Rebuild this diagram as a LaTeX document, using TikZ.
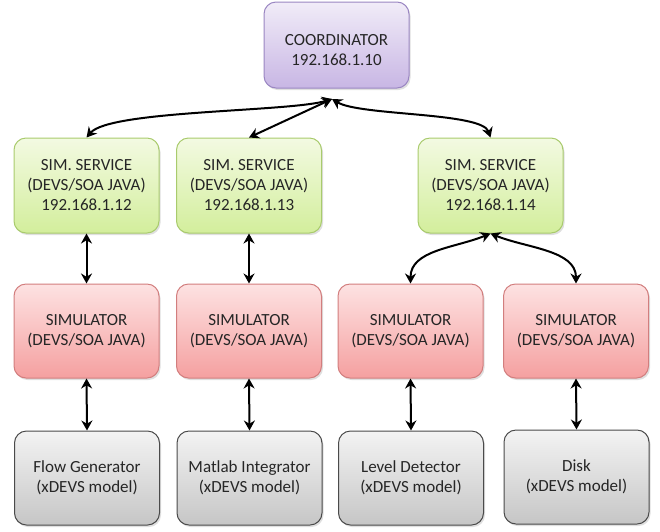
\documentclass[tikz,border=0pt]{standalone}
\usepackage{fontspec}
\setmainfont{Carlito}
\usetikzlibrary{arrows.meta,shadows}

\definecolor{coordTop}{HTML}{F1ECF8}
\definecolor{coordBot}{HTML}{C8B6E4}
\definecolor{coordLine}{HTML}{9A86C2}
\definecolor{svcTop}{HTML}{F3FAE2}
\definecolor{svcBot}{HTML}{D3EE9C}
\definecolor{svcLine}{HTML}{A9CB6D}
\definecolor{simTop}{HTML}{FDE2E2}
\definecolor{simBot}{HTML}{F5A0A0}
\definecolor{simLine}{HTML}{D27E7E}
\definecolor{modTop}{HTML}{F3F3F3}
\definecolor{modBot}{HTML}{C6C6C6}
\definecolor{modLine}{HTML}{4A4A4A}

\tikzset{
  box/.style={rounded corners=12pt, align=center, minimum width=145pt,
    font=\fontsize{17}{20}\selectfont, text=black!85, line width=1pt,
    drop shadow={opacity=0.25, shadow xshift=1.5pt, shadow yshift=-2pt}},
  coordbox/.style={box, draw=coordLine, top color=coordTop, bottom color=coordBot, minimum height=86pt},
  svcbox/.style={box, draw=svcLine, top color=svcTop, bottom color=svcBot, minimum height=95pt},
  simbox/.style={box, draw=simLine, top color=simTop, bottom color=simBot, minimum height=94pt},
  modbox/.style={box, draw=modLine, top color=modTop, bottom color=modBot, minimum height=94pt},
  link/.style={{Stealth[length=10pt,width=11pt]}-{Stealth[length=10pt,width=11pt]}, line width=2pt, black}
}

\begin{document}
\begin{tikzpicture}[x=1pt,y=-1pt]
\useasboundingbox (0,0) rectangle (660,531);

% top level (the strut drops the two text lines a little below centre)
\node[coordbox] (coord) at (336.5,45) {\rule{0pt}{22pt}COORDINATOR\\192.168.1.10};

% simulation services
\node[svcbox] (ss1) at (86.5,185.5) {SIM. SERVICE\\(DEVS/SOA JAVA)\\192.168.1.12};
\node[svcbox] (ss2) at (249,185.5) {SIM. SERVICE\\(DEVS/SOA JAVA)\\192.168.1.13};
\node[svcbox] (ss3) at (490.5,185.5) {SIM. SERVICE\\(DEVS/SOA JAVA)\\192.168.1.14};

% simulators
\node[simbox] (sim1) at (86.5,331) {SIMULATOR\\(DEVS/SOA JAVA)};
\node[simbox] (sim2) at (249,331) {SIMULATOR\\(DEVS/SOA JAVA)};
\node[simbox] (sim3) at (410.5,331) {SIMULATOR\\(DEVS/SOA JAVA)};
\node[simbox] (sim4) at (576,331) {SIMULATOR\\(DEVS/SOA JAVA)};

% models
\node[modbox] (m1) at (87,478) {Flow Generator\\(xDEVS model)};
\node[modbox] (m2) at (249.5,478) {Matlab Integrator\\(xDEVS model)};
\node[modbox] (m3) at (411,478) {Level Detector\\(xDEVS model)};
\node[modbox] (m4) at (576.5,477) {Disk\\(xDEVS model)};

% coordinator links
\coordinate (hub) at (332,99);
\draw[link] (hub) .. controls (290,112) and (110,110) .. (ss1.north);
\draw[link] (hub) -- (ss2.north);
\draw[link] (hub) .. controls (360,116) and (482,112) .. (ss3.north);

% service to simulator links
\draw[link] (ss3.south) .. controls (455,248) and (410.5,250) .. (sim3.north);
\draw[link] (ss3.south) .. controls (526,248) and (576,250) .. (sim4.north);
\draw[link] (ss1.south) -- (sim1.north);
\draw[link] (ss2.south) -- (sim2.north);

% simulator to model links
\draw[link] (sim1.south) -- (m1.north);
\draw[link] (sim2.south) -- (m2.north);
\draw[link] (sim3.south) -- (m3.north);
\draw[link] (sim4.south) -- (m4.north);
\end{tikzpicture}
\end{document}
